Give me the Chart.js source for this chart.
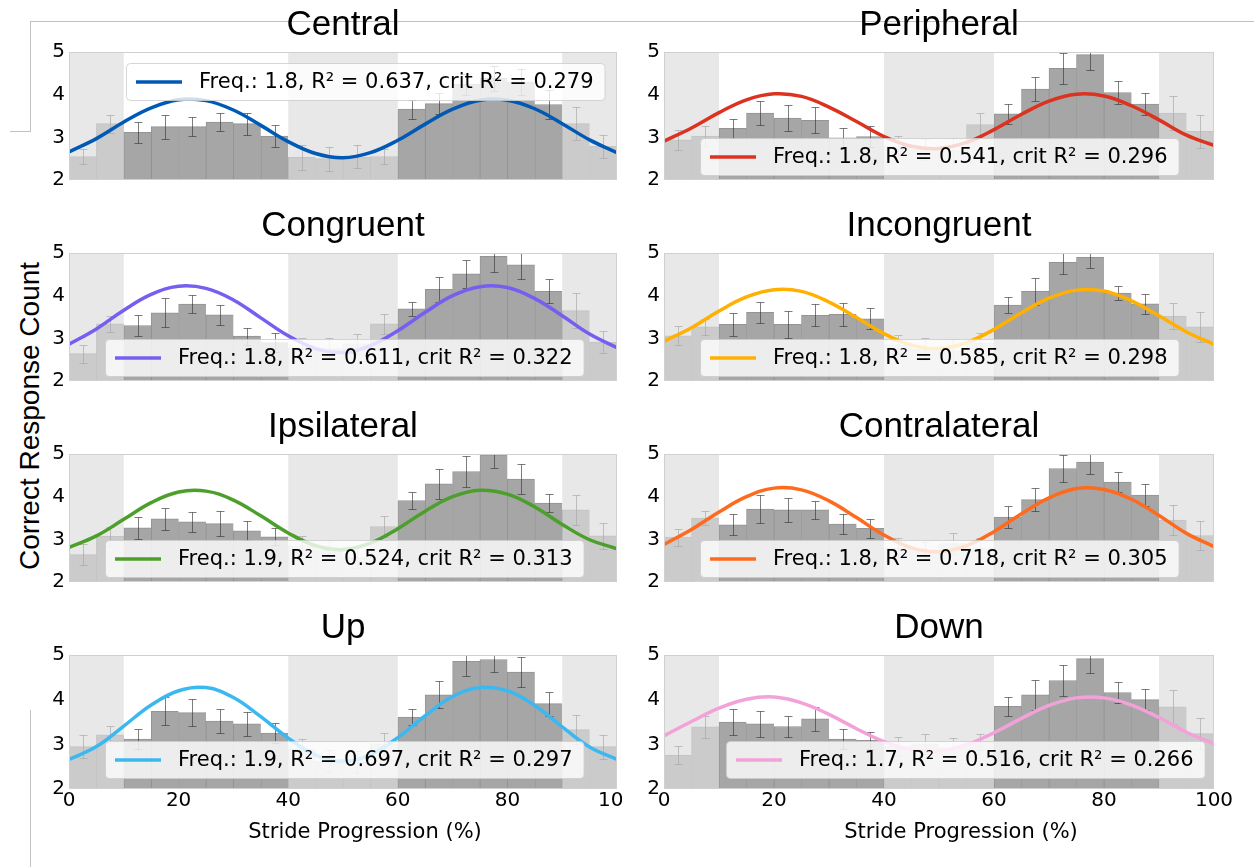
<!DOCTYPE html>
<html lang="en">
<head>
  <meta charset="UTF-8">
  <title>Correct responses across the stride</title>
  <script src="https://cdn.jsdelivr.net/npm/chart.js"></script>
  <style>
    body { margin: 0; background: #fff; }
    #fig { position: relative; width: 1254px; height: 867px; overflow: hidden; background: #fff; }
    #fig canvas { position: absolute; }
    .rule { position: absolute; background: #c2c2c2; }
    #ylabel {
      position: absolute; left: 30px; top: 416px;
      transform: translate(-50%, -50%) rotate(-90deg);
      font: 28px "Liberation Sans", Arial, sans-serif; color: #000; white-space: nowrap;
    }
  </style>
</head>
<body>
  <div id="fig">
    <!-- page rules around the figure -->
    <div class="rule" style="left:30px;top:21px;width:1224px;height:1px"></div>
    <div class="rule" style="left:30px;top:21px;width:1px;height:111px"></div>
    <div class="rule" style="left:10px;top:131px;width:21px;height:1px"></div>
    <div class="rule" style="left:30px;top:710px;width:1px;height:157px"></div>
    <div id="ylabel">Correct Response Count</div>
  </div>

  <script>
    // 5 % bins over the stride; fit curves sampled every 5 %
    const binCentres = [2.5, 7.5, 12.5, 17.5, 22.5, 27.5, 32.5, 37.5, 42.5, 47.5,
                        52.5, 57.5, 62.5, 67.5, 72.5, 77.5, 82.5, 87.5, 92.5, 97.5];
    const fitX = [0, 5, 10, 15, 20, 25, 30, 35, 40, 45, 50, 55, 60, 65, 70, 75, 80, 85, 90, 95, 100];
    const shadedSpans = [[0, 10], [40, 60], [90, 100]];

    const centralCounts = [2.55, 3.32, 3.12, 3.25, 3.25, 3.36, 3.32, 3.03, 2.53, 2.50, 2.54, 2.55, 3.66, 3.79, 4.24, 4.38, 4.30, 3.77, 3.32, 2.79];
    const centralErr    = [0.18, 0.21, 0.25, 0.28, 0.22, 0.20, 0.26, 0.26, 0.29, 0.28, 0.27, 0.18, 0.22, 0.25, 0.25, 0.29, 0.31, 0.34, 0.39, 0.27];
    const centralFit    = [2.66, 2.97, 3.36, 3.69, 3.88, 3.86, 3.64, 3.28, 2.90, 2.62, 2.52, 2.64, 2.93, 3.31, 3.66, 3.87, 3.87, 3.67, 3.32, 2.94, 2.64];
    const centralStats  = [1.8, 0.637, 0.279];

    const peripheralCounts = [2.94, 3.03, 3.21, 3.57, 3.45, 3.40, 2.99, 3.02, 2.80, 2.72, 2.69, 3.30, 3.55, 4.13, 4.62, 4.94, 4.05, 3.78, 3.57, 3.14];
    const peripheralErr    = [0.24, 0.23, 0.22, 0.28, 0.30, 0.30, 0.23, 0.25, 0.22, 0.25, 0.30, 0.26, 0.23, 0.29, 0.36, 0.36, 0.27, 0.26, 0.39, 0.38];
    const peripheralFit    = [2.91, 3.22, 3.58, 3.88, 4.02, 3.96, 3.71, 3.37, 3.02, 2.79, 2.74, 2.88, 3.18, 3.54, 3.85, 4.01, 3.97, 3.74, 3.41, 3.05, 2.81];
    const peripheralStats  = [1.8, 0.541, 0.296];

    const congruentCounts = [2.64, 3.34, 3.30, 3.60, 3.80, 3.55, 3.05, 2.90, 2.78, 2.76, 2.87, 3.34, 3.69, 4.15, 4.51, 4.92, 4.72, 4.10, 3.65, 2.91];
    const congruentErr    = [0.21, 0.19, 0.24, 0.34, 0.21, 0.23, 0.20, 0.22, 0.22, 0.24, 0.24, 0.24, 0.17, 0.29, 0.33, 0.37, 0.34, 0.28, 0.41, 0.26];
    const congruentFit    = [2.86, 3.22, 3.66, 4.03, 4.22, 4.17, 3.90, 3.48, 3.06, 2.76, 2.67, 2.83, 3.18, 3.61, 4.00, 4.21, 4.19, 3.93, 3.53, 3.10, 2.78];
    const congruentStats  = [1.8, 0.611, 0.322];

    const incongruentCounts = [3.06, 3.27, 3.33, 3.61, 3.33, 3.54, 3.56, 3.46, 2.85, 2.75, 2.70, 2.88, 3.78, 4.10, 4.78, 4.90, 4.06, 3.81, 3.52, 3.27];
    const incongruentErr    = [0.22, 0.19, 0.27, 0.25, 0.32, 0.26, 0.27, 0.25, 0.22, 0.25, 0.28, 0.25, 0.18, 0.32, 0.28, 0.24, 0.17, 0.24, 0.31, 0.35];
    const incongruentFit    = [2.93, 3.25, 3.64, 3.97, 4.14, 4.10, 3.85, 3.49, 3.11, 2.84, 2.76, 2.90, 3.21, 3.60, 3.94, 4.13, 4.11, 3.88, 3.53, 3.15, 2.86];
    const incongruentStats  = [1.8, 0.585, 0.298];

    const ipsilateralCounts = [2.64, 3.07, 3.27, 3.48, 3.41, 3.37, 3.20, 3.06, 2.85, 2.75, 2.57, 3.30, 3.91, 4.30, 4.59, 4.98, 4.41, 3.85, 3.69, 3.08];
    const ipsilateralErr    = [0.25, 0.22, 0.26, 0.26, 0.24, 0.29, 0.22, 0.20, 0.22, 0.24, 0.24, 0.24, 0.20, 0.35, 0.36, 0.31, 0.35, 0.22, 0.35, 0.31];
    const ipsilateralFit    = [2.81, 3.08, 3.47, 3.86, 4.11, 4.13, 3.92, 3.55, 3.15, 2.85, 2.76, 2.91, 3.25, 3.66, 4.00, 4.15, 4.06, 3.76, 3.35, 2.99, 2.78];
    const ipsilateralStats  = [1.9, 0.524, 0.313];

    const contralateralCounts = [3.05, 3.50, 3.34, 3.71, 3.69, 3.69, 3.36, 3.26, 2.80, 2.74, 2.90, 2.80, 3.52, 3.93, 4.66, 4.81, 4.34, 4.04, 3.45, 3.09];
    const contralateralErr    = [0.20, 0.17, 0.25, 0.32, 0.29, 0.22, 0.24, 0.22, 0.22, 0.20, 0.25, 0.22, 0.25, 0.27, 0.31, 0.29, 0.24, 0.26, 0.35, 0.34];
    const contralateralFit    = [2.88, 3.23, 3.64, 4.00, 4.20, 4.16, 3.90, 3.51, 3.10, 2.80, 2.71, 2.85, 3.18, 3.60, 3.97, 4.19, 4.17, 3.94, 3.56, 3.14, 2.83];
    const contralateralStats  = [1.8, 0.718, 0.305];

    const upCounts = [2.95, 3.21, 3.12, 3.74, 3.71, 3.52, 3.46, 3.25, 2.90, 2.62, 2.60, 3.01, 3.61, 4.11, 4.86, 4.90, 4.62, 3.91, 3.33, 2.95];
    const upErr    = [0.25, 0.19, 0.23, 0.31, 0.31, 0.27, 0.27, 0.22, 0.22, 0.25, 0.25, 0.24, 0.17, 0.30, 0.33, 0.29, 0.33, 0.27, 0.33, 0.27];
    const upFit    = [2.66, 2.95, 3.41, 3.88, 4.20, 4.27, 4.05, 3.62, 3.14, 2.76, 2.62, 2.77, 3.15, 3.64, 4.07, 4.27, 4.20, 3.87, 3.39, 2.94, 2.66];
    const upStats  = [1.9, 0.697, 0.297];

    const downCounts = [2.76, 3.39, 3.50, 3.46, 3.40, 3.57, 3.12, 3.09, 2.95, 3.01, 2.92, 3.05, 3.85, 4.11, 4.43, 4.92, 4.16, 4.00, 3.84, 3.24];
    const downErr    = [0.21, 0.25, 0.28, 0.29, 0.24, 0.27, 0.23, 0.19, 0.22, 0.23, 0.22, 0.18, 0.22, 0.34, 0.35, 0.32, 0.23, 0.24, 0.38, 0.34];
    const downFit    = [3.19, 3.51, 3.81, 4.01, 4.06, 3.93, 3.67, 3.35, 3.06, 2.88, 2.85, 2.99, 3.26, 3.58, 3.87, 4.04, 4.04, 3.88, 3.60, 3.27, 3.01];
    const downStats  = [1.7, 0.516, 0.266];

    const panels = [
      { title: 'Central',       counts: centralCounts,       err: centralErr,       fit: centralFit,       stats: centralStats,       color: '#005ab5' },
      { title: 'Peripheral',    counts: peripheralCounts,    err: peripheralErr,    fit: peripheralFit,    stats: peripheralStats,    color: '#dc3220' },
      { title: 'Congruent',     counts: congruentCounts,     err: congruentErr,     fit: congruentFit,     stats: congruentStats,     color: '#785ef0' },
      { title: 'Incongruent',   counts: incongruentCounts,   err: incongruentErr,   fit: incongruentFit,   stats: incongruentStats,   color: '#ffb000' },
      { title: 'Ipsilateral',   counts: ipsilateralCounts,   err: ipsilateralErr,   fit: ipsilateralFit,   stats: ipsilateralStats,   color: '#4c9f2a' },
      { title: 'Contralateral', counts: contralateralCounts, err: contralateralErr, fit: contralateralFit, stats: contralateralStats, color: '#fe6a1e' },
      { title: 'Up',            counts: upCounts,            err: upErr,            fit: upFit,            stats: upStats,            color: '#3cb8f0' },
      { title: 'Down',          counts: downCounts,          err: downErr,          fit: downFit,          stats: downStats,          color: '#f2a2d8' }
    ];

    // grid geometry (plot areas in page pixels)
    const colLeft = [69, 664];
    const colWidth = [548, 550];
    const colPadRight = [5, 30];   // left column cuts off its last tick label, as in the source figure
    const rowTop = [52, 253, 454, 655];
    const plotH = 134;
    const padTop = 50, axisW = 60;
    const legendAt = [[57, 11], [36, 86], [36, 86], [36, 86], [36, 86], [36, 86], [36, 86], [62, 86]];

    Chart.defaults.font.family = '"DejaVu Sans", sans-serif';
    Chart.defaults.color = '#000';

    function roundRect(ctx, x, y, w, h, r) {
      ctx.beginPath();
      ctx.moveTo(x + r, y);
      ctx.lineTo(x + w - r, y);
      ctx.arcTo(x + w, y, x + w, y + r, r);
      ctx.lineTo(x + w, y + h - r);
      ctx.arcTo(x + w, y + h, x + w - r, y + h, r);
      ctx.lineTo(x + r, y + h);
      ctx.arcTo(x, y + h, x, y + h - r, r);
      ctx.lineTo(x, y + r);
      ctx.arcTo(x, y, x + r, y, r);
      ctx.closePath();
    }

    const panelDecor = {
      id: 'panelDecor',
      // error bars, then the grey phase bands over the histogram
      afterDatasetDraw(chart, args, o) {
        if (args.index !== 0) return;
        const p = panels[o.idx];
        const { ctx, chartArea: a, scales: { x, y } } = chart;
        ctx.save();
        ctx.beginPath();
        ctx.rect(a.left, a.top, a.width, a.height);
        ctx.clip();
        ctx.strokeStyle = 'rgba(55,55,55,0.65)';
        ctx.lineWidth = 1;
        p.counts.forEach((v, i) => {
          const px = Math.round(x.getPixelForValue(binCentres[i])) + 0.5;
          const y0 = Math.round(y.getPixelForValue(v - p.err[i])) + 0.5;
          const y1 = Math.round(y.getPixelForValue(v + p.err[i])) + 0.5;
          ctx.beginPath();
          ctx.moveTo(px, y0); ctx.lineTo(px, y1);
          ctx.moveTo(px - 4, y0); ctx.lineTo(px + 4, y0);
          ctx.moveTo(px - 4, y1); ctx.lineTo(px + 4, y1);
          ctx.stroke();
        });
        ctx.fillStyle = 'rgba(221,221,221,0.67)';
        shadedSpans.forEach(([s, e]) => {
          const l = x.getPixelForValue(s), r = x.getPixelForValue(e);
          ctx.fillRect(l, a.top, r - l, a.height);
        });
        ctx.restore();
      },
      afterDatasetsDraw(chart) {
        const { ctx, chartArea: a } = chart;
        ctx.save();
        ctx.strokeStyle = '#d0d0d0';
        ctx.lineWidth = 1;
        ctx.strokeRect(a.left + 0.5, a.top + 0.5, a.width - 1, a.height - 1);
        ctx.restore();
      },
      afterDraw(chart, args, o) {
        const p = panels[o.idx];
        const { ctx, chartArea: a } = chart;
        const [freq, r2, crit] = p.stats;
        const label = `Freq.: ${freq.toFixed(1)}, R\u00b2 = ${r2.toFixed(3)}, crit R\u00b2 = ${crit.toFixed(3)}`;
        ctx.save();

        // legend box
        ctx.font = '21px "DejaVu Sans", sans-serif';
        const tw = ctx.measureText(label).width;
        const bx = a.left + o.legend[0], by = a.top + o.legend[1];
        const bw = 10 + 46 + 17 + tw + 11, bh = 37;
        roundRect(ctx, bx + 0.5, by + 0.5, bw, bh, 4);
        ctx.fillStyle = 'rgba(255,255,255,0.8)';
        ctx.fill();
        ctx.strokeStyle = 'rgba(204,204,204,0.8)';
        ctx.lineWidth = 1;
        ctx.stroke();
        ctx.strokeStyle = p.color;
        ctx.lineWidth = 3.5;
        ctx.beginPath();
        ctx.moveTo(bx + 10, by + bh / 2 + 0.5);
        ctx.lineTo(bx + 56, by + bh / 2 + 0.5);
        ctx.stroke();
        ctx.fillStyle = '#000';
        ctx.textBaseline = 'middle';
        ctx.textAlign = 'left';
        ctx.fillText(label, bx + 73, by + bh / 2 + 1);

        // panel title
        ctx.font = '35px "Liberation Sans", Arial, sans-serif';
        ctx.textAlign = 'center';
        ctx.textBaseline = 'alphabetic';
        ctx.fillText(p.title, (a.left + a.right) / 2, a.top - 17);

        if (o.xTitle) {
          ctx.font = '21px "DejaVu Sans", sans-serif';
          ctx.textBaseline = 'middle';
          ctx.fillText('Stride Progression (%)', (a.left + a.right) / 2 + 22, a.bottom + 44);
        }
        ctx.restore();
      }
    };

    const fig = document.getElementById('fig');

    panels.forEach((p, i) => {
      const col = i % 2, row = Math.floor(i / 2);
      const bottomRow = row === 3;
      const padBottom = bottomRow ? 62 : 6;
      const padRight = colPadRight[col];
      const canvas = document.createElement('canvas');
      canvas.width = axisW + colWidth[col] + padRight;
      canvas.height = padTop + plotH + padBottom;
      canvas.style.left = (colLeft[col] - axisW) + 'px';
      canvas.style.top = (rowTop[row] - padTop) + 'px';
      fig.appendChild(canvas);

      new Chart(canvas.getContext('2d'), {
        type: 'bar',
        data: {
          datasets: [
            {
              type: 'bar',
              data: p.counts.map((v, k) => ({ x: binCentres[k], y: v })),
              backgroundColor: '#a6a6a6',
              borderColor: 'rgba(60,60,60,0.55)',
              borderWidth: { top: 1, left: 1, right: 0, bottom: 0 },
              borderSkipped: false,
              barPercentage: 1,
              categoryPercentage: 1,
              order: 2,
              clip: 0
            },
            {
              type: 'line',
              data: p.fit.map((v, k) => ({ x: fitX[k], y: v })),
              borderColor: p.color,
              borderWidth: 3.5,
              pointRadius: 0,
              tension: 0.4,
              order: 1,
              clip: 0
            }
          ]
        },
        options: {
          responsive: false,
          animation: false,
          devicePixelRatio: 1,
          layout: { padding: { top: padTop, right: padRight, bottom: bottomRow ? 0 : padBottom, left: 0 } },
          plugins: {
            legend: { display: false },
            tooltip: { enabled: false },
            panelDecor: { idx: i, legend: legendAt[i], xTitle: bottomRow }
          },
          scales: {
            x: {
              type: 'linear',
              min: 0,
              max: 100,
              offset: false,
              display: bottomRow,
              grid: { display: false, drawTicks: false },
              border: { display: false },
              ticks: { stepSize: 20, font: { size: 20 }, color: '#000', padding: 0, maxRotation: 0, autoSkip: false },
              afterFit(s) { s.height = padBottom; s.paddingLeft = 0; s.paddingRight = 0; }
            },
            y: {
              min: 2,
              max: 5,
              grid: { display: false, drawTicks: false },
              border: { display: false },
              ticks: { stepSize: 1, font: { size: 20 }, color: '#000', padding: 4 },
              afterFit(s) { s.width = axisW; s.paddingTop = 0; s.paddingBottom = 0; }
            }
          }
        },
        plugins: [panelDecor]
      });
    });
  </script>
</body>
</html>
